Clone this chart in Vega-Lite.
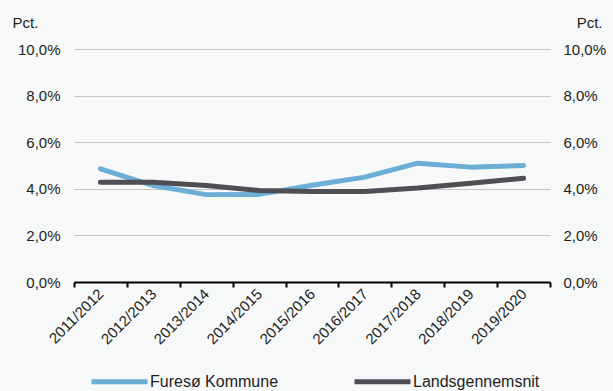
{
  "$schema": "https://vega.github.io/schema/vega-lite/v6.json",
  "autosize": "none",
  "width": 476,
  "height": 233,
  "padding": {"left": 74, "top": 49, "right": 63, "bottom": 109},
  "background": "#f7f8f8",
  "data": {"values": [
    {"year": "2011/2012", "series": "Furesø Kommune", "value": 4.86},
    {"year": "2012/2013", "series": "Furesø Kommune", "value": 4.14},
    {"year": "2013/2014", "series": "Furesø Kommune", "value": 3.75},
    {"year": "2014/2015", "series": "Furesø Kommune", "value": 3.76},
    {"year": "2015/2016", "series": "Furesø Kommune", "value": 4.15},
    {"year": "2016/2017", "series": "Furesø Kommune", "value": 4.5},
    {"year": "2017/2018", "series": "Furesø Kommune", "value": 5.1},
    {"year": "2018/2019", "series": "Furesø Kommune", "value": 4.93},
    {"year": "2019/2020", "series": "Furesø Kommune", "value": 5.0},
    {"year": "2011/2012", "series": "Landsgennemsnit", "value": 4.28},
    {"year": "2012/2013", "series": "Landsgennemsnit", "value": 4.28},
    {"year": "2013/2014", "series": "Landsgennemsnit", "value": 4.14},
    {"year": "2014/2015", "series": "Landsgennemsnit", "value": 3.93},
    {"year": "2015/2016", "series": "Landsgennemsnit", "value": 3.88},
    {"year": "2016/2017", "series": "Landsgennemsnit", "value": 3.88},
    {"year": "2017/2018", "series": "Landsgennemsnit", "value": 4.03},
    {"year": "2018/2019", "series": "Landsgennemsnit", "value": 4.24},
    {"year": "2019/2020", "series": "Landsgennemsnit", "value": 4.45}
  ]},
  "resolve": {"axis": {"y": "independent"}},
  "layer": [
    {
      "mark": {"type": "line", "strokeWidth": 5, "strokeCap": "round", "strokeJoin": "round"},
      "encoding": {
        "x": {
          "field": "year", "type": "nominal", "sort": null,
          "bandPosition": 0.5,
          "scale": {"type": "band", "paddingInner": 0, "paddingOuter": 0},
          "axis": {
            "title": null, "labelAngle": -45, "labelAlign": "right", "labelBaseline": "middle",
            "labelPadding": 4, "tickBand": "extent", "domainColor": "#000000", "domainWidth": 2,
            "tickColor": "#000000", "tickWidth": 2, "tickSize": 5, "grid": false
          }
        },
        "y": {
          "field": "value", "type": "quantitative",
          "scale": {"domain": [0, 10], "nice": false},
          "axis": {
            "orient": "left", "values": [0, 2, 4, 6, 8, 10],
            "labelExpr": "replace(format(datum.value, '.1f'), '.', ',') + '%'",
            "domain": false, "ticks": false, "labelPadding": 14, "grid": true,
            "gridColor": "#c4c4c4", "gridWidth": 1,
            "title": "Pct.", "titleAngle": 0, "titleAlign": "left", "titleBaseline": "alphabetic",
            "titleX": -62, "titleY": -22
          }
        },
        "color": {
          "field": "series", "type": "nominal",
          "scale": {"domain": ["Furesø Kommune", "Landsgennemsnit"], "range": ["#6baed6", "#4e4e54"]},
          "legend": {
            "title": null, "orient": "none", "direction": "horizontal", "legendX": 15, "legendY": 302,
            "symbolType": "stroke", "symbolSize": 3136, "symbolStrokeWidth": 5,
            "labelOffset": 0, "columnPadding": 65, "labelFontSize": 16
          }
        }
      }
    },
    {
      "mark": {"type": "point", "opacity": 0},
      "encoding": {
        "x": {"field": "year", "type": "nominal", "sort": null, "bandPosition": 0.5},
        "y": {
          "field": "value", "type": "quantitative",
          "axis": {
            "orient": "right", "values": [0, 2, 4, 6, 8, 10],
            "labelExpr": "replace(format(datum.value, '.1f'), '.', ',') + '%'",
            "domain": false, "ticks": false, "labelPadding": 13, "grid": false,
            "title": "Pct.", "titleAngle": 0, "titleAlign": "right", "titleBaseline": "alphabetic",
            "titleX": 52, "titleY": -22
          }
        }
      }
    }
  ],
  "config": {
    "font": "Liberation Sans",
    "view": {"stroke": null},
    "axis": {
      "labelFont": "Liberation Sans", "labelFontSize": 15, "labelColor": "#1e1e1e",
      "titleFont": "Liberation Sans", "titleFontSize": 15, "titleFontWeight": "normal", "titleColor": "#1e1e1e"
    },
    "legend": {"labelFont": "Liberation Sans", "labelFontSize": 16, "labelColor": "#1e1e1e"}
  }
}
